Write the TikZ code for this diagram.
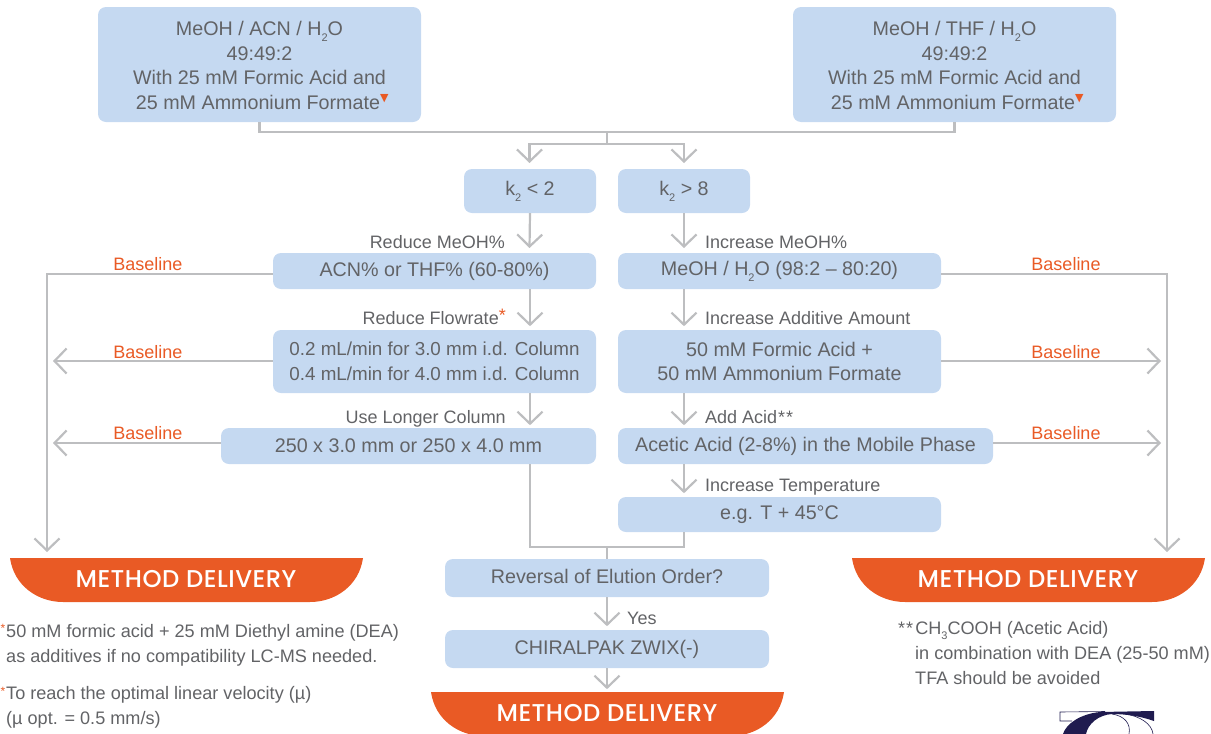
\documentclass[tikz,border=0pt]{standalone}
\usepackage{fontspec}
\usetikzlibrary{arrows.meta}
\setmainfont{Liberation Sans}
\newfontfamily\symfont{DejaVu Sans}
\newfontfamily\mdfont[LetterSpace=2]{Poppins Medium}
\definecolor{boxblue}{HTML}{C5D9F1}
\definecolor{txtgrey}{HTML}{626366}
\definecolor{lineg}{HTML}{BDBEC0}
\definecolor{orangeM}{HTML}{E95A25}
\definecolor{navy}{HTML}{1F1B4F}
\newcommand{\sbs}[1]{\raisebox{-0.3em}{\fontsize{11}{11}\selectfont #1}}
\newcommand{\tri}{\smash{\raisebox{0.4em}{\textcolor{orangeM}{\symfont\fontsize{11}{11}\selectfont ▼}}}}
\tikzset{
  x=1pt,y=-1pt,
  box/.style={fill=boxblue,rounded corners=8pt,inner sep=0pt,text=txtgrey,align=center,font=\fontsize{19.7}{24.6}\selectfont},
  lab/.style={text=txtgrey,inner sep=0pt,text height=13pt,text depth=0pt,font=\fontsize{18}{22}\selectfont},
  base/.style={text=orangeM,inner sep=0pt,text height=13pt,text depth=0pt,font=\fontsize{18}{20}\selectfont},
  note/.style={text=txtgrey,inner sep=0pt,anchor=west,text height=13pt,text depth=0pt,font=\fontsize{18.1}{20}\selectfont},
  conn/.style={draw=lineg,line width=2.2pt},
  arr/.style={conn,-{Straight Barb[length=12pt,width=25pt,line width=2.2pt]}},
  mdtext/.style={text=white,inner sep=0pt,font=\mdfont\fontsize{24.3}{26}\selectfont},
  star/.style={text=orangeM,inner sep=0pt,font=\fontsize{12}{12}\selectfont},
}
\newcommand{\bx}[6]{\node[box,minimum width=#4pt-#3pt,minimum height=#6pt-#5pt] (#1) at ({(#3+#4)/2},{(#5+#6)/2}) {#2};}
\newcommand{\banner}[3]{%
  \fill[orangeM] (#2,#3) -- ({#2+353},#3) .. controls ({#2+349},{#3+28}) and ({#2+325},{#3+44}) .. ({#2+300},{#3+44})
    -- ({#2+53},{#3+44}) .. controls ({#2+28},{#3+44}) and ({#2+4},{#3+28}) .. (#2,#3) -- cycle;
  \node[mdtext] (#1) at ({#2+176},{#3+21.5}) {METHOD DELIVERY};}
\begin{document}
\begin{tikzpicture}
\useasboundingbox (0,0) rectangle (1211,734);
\clip (0,0) rectangle (1211,734);
\bx{A}{\rule{0pt}{16.5pt}MeOH / ACN / H\sbs{2}O\\49:49:2\\With 25 mM Formic Acid and\\\ 25 mM Ammonium Formate\tri}{98}{421}{7}{122}
\bx{B}{\rule{0pt}{16.5pt}MeOH / THF / H\sbs{2}O\\49:49:2\\With 25 mM Formic Acid and\\\ 25 mM Ammonium Formate\tri}{793}{1116}{7}{122}
\bx{kl}{\raisebox{-1pt}{k\sbs{2} < 2}}{464}{596}{169}{213}
\bx{kh}{\raisebox{-1pt}{k\sbs{2} > 8}}{618}{750}{169}{213}
\bx{rone}{\raisebox{-1pt}{ACN\% or THF\% (60-80\%)}}{273}{596}{253}{289}
\bx{ione}{\raisebox{-1pt}{MeOH / H\sbs{2}O (98:2 – 80:20)}}{618}{941}{253}{289}
\bx{rtwo}{\fontsize{18.8}{24.7}\selectfont 0.2 mL/min for 3.0 mm i.d. Column\\\fontsize{18.8}{24.7}\selectfont 0.4 mL/min for 4.0 mm i.d. Column}{273}{596}{330}{393}
\bx{itwo}{50 mM Formic Acid +\\50 mM Ammonium Formate}{618}{941}{330}{393}
\bx{rthree}{250 x 3.0 mm or 250 x 4.0 mm}{221}{596}{428}{464}
\bx{ithree}{Acetic Acid (2-8\%) in the Mobile Phase}{618}{993}{428}{464}
\bx{ifour}{\raisebox{-1.5pt}{e.g. T + 45°C}}{618}{941}{497}{532}
\bx{rev}{\raisebox{4pt}{Reversal of Elution Order?}}{445}{769}{559}{597}
\bx{zwix}{CHIRALPAK ZWIX(-)}{445}{769}{630}{668}
\banner{mdl}{10}{558}
\banner{mdr}{852}{558}
\banner{mdc}{431}{692}
% labels
\node[lab,anchor=east] (l1) at (505,242) {Reduce MeOH\%};
\node[lab,anchor=west] (l2) at (705,242) {Increase MeOH\%};
\node[lab,anchor=east] (l3) at (506,318) {Reduce Flowrate\smash{\textcolor{orangeM}{\raisebox{0.15em}{*}}}};
\node[lab,anchor=west] (l4) at (705,318) {Increase Additive Amount};
\node[lab,anchor=east] (l5) at (506,417) {Use Longer Column};
\node[lab,anchor=west] (l6) at (705,417) {Add Acid\kern1pt*\kern1pt*};
\node[lab,anchor=west] (l7) at (705,485) {Increase Temperature};
\node[lab,anchor=west] (l8) at (627,618) {Yes};
\node[base] (b1) at (148,264) {Baseline};
\node[base] (b2) at (148,352) {Baseline};
\node[base] (b3) at (148,433) {Baseline};
\node[base] (b4) at (1066,264) {Baseline};
\node[base] (b5) at (1066,352) {Baseline};
\node[base] (b6) at (1066,433) {Baseline};
% notes
\node[note] (n1) at (6,631) {50 mM formic acid + 25 mM Diethyl amine (DEA)};
\node[note] (n2) at (6,656) {as additives if no compatibility LC-MS needed.};
\node[note] (n3) at (6,693) {To reach the optimal linear velocity (µ)};
\node[note] (n4) at (6,718) {(µ opt. = 0.5 mm/s)};
\node[note] (n5) at (898,628) {*\kern1pt*\kern2pt CH\sbs{3}COOH (Acetic Acid)};
\node[note] (n6) at (915,653) {in combination with DEA (25-50 mM)};
\node[note] (n7) at (915,678) {TFA should be avoided};
% footnote marks
\node[star] (s1) at (3,628) {*};
\node[star] (s2) at (3,691) {*};
% coordinates
\coordinate (j1) at (607,132);
\coordinate (j2) at (607,144);
\coordinate (akl) at (529.5,163);
\coordinate (akh) at (684,163);
\coordinate (arl1) at (529.5,248);
\coordinate (arh1) at (684,248);
\coordinate (end1) at (47,552);
\coordinate (end2) at (1167,552);
\coordinate (end3) at (53,361);
\coordinate (end4) at (1161,361);
\coordinate (end5) at (53,443);
\coordinate (end6) at (1161,443);
\coordinate (w1) at (273,274);
\coordinate (e1) at (941,274);
\coordinate (j3) at (607,547);
% connectors
\draw[conn] (A.south) |- (j1) -| (B.south);
\draw[conn] (j1) -- (j2);
\draw[arr] (j2) -| (akl);
\draw[arr] (j2) -| (akh);
\draw[arr] (kl.south) -- (arl1);
\draw[arr] (kh.south) -- (arh1);
\draw[arr] (rone.south -| kl.south) -- ++(0,37);
\draw[arr] (ione.south -| kh.south) -- ++(0,37);
\draw[arr] (rtwo.south -| kl.south) -- ++(0,32);
\draw[arr] (itwo.south -| kh.south) -- ++(0,32);
\draw[arr] (ithree.south -| kh.south) -- ++(0,29);
\draw[conn] (rthree.south -| kl.south) |- (j3);
\draw[conn] (ifour.south -| kh.south) |- (j3);
\draw[conn] (j3) -- (rev.north);
\draw[arr] (rev.south) -- ++(0,29);
\draw[arr] (zwix.south) -- ++(0,21);
\draw[arr] (w1) -| (end1);
\draw[arr] (e1) -| (end2);
\draw[arr] (rtwo.west |- end3) -- (end3);
\draw[arr] (itwo.east |- end4) -- (end4);
\draw[arr] (rthree.west |- end5) -- (end5);
\draw[arr] (ithree.east |- end6) -- (end6);
% logo fragment
\fill[navy] (1063,734) .. controls (1066,724) and (1080,714) .. (1100,712) -- (1154,711) -- (1154,721) .. controls (1140,716) and (1125,714) .. (1112,714) .. controls (1098,715) and (1088,724) .. (1086,734) -- cycle;
\draw[navy,line width=0.6pt] (1072,721) -- (1060,721) -- (1060,712) -- (1105,711.5);
\draw[navy,line width=0.6pt] (1112,714) .. controls (1125,716) and (1131,724) .. (1129,734);
\draw[navy,line width=0.6pt] (1125,714) .. controls (1140,716) and (1152,724) .. (1153,734);
\end{tikzpicture}
\end{document}
